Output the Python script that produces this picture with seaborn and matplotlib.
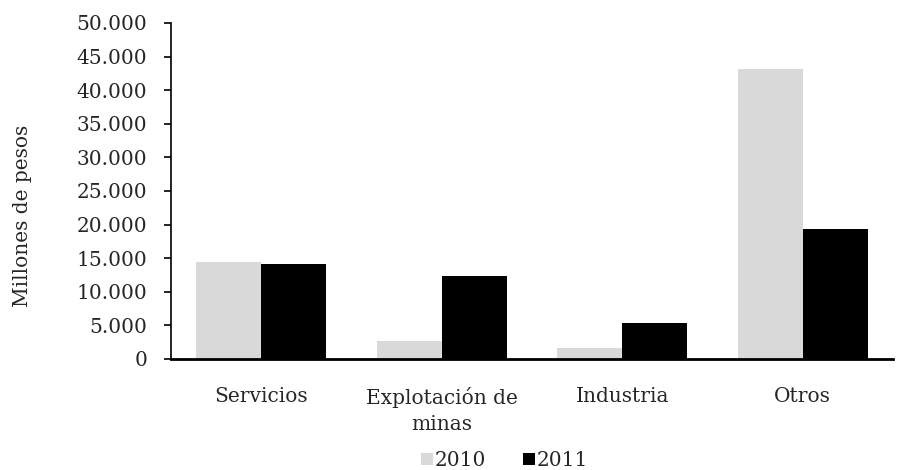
import matplotlib
matplotlib.use("Agg")
import matplotlib.pyplot as plt
import seaborn as sns
import pandas as pd
from matplotlib.ticker import FuncFormatter, MultipleLocator

categories = ["Servicios", "Explotación de\nminas", "Industria", "Otros"]
years = ["2010", "2011"]
values_2010 = [14400, 2700, 1700, 43200]
values_2011 = [14100, 12350, 5300, 19300]

df = pd.DataFrame({
    "Sector": categories * 2,
    "Año": [years[0]] * 4 + [years[1]] * 4,
    "Valor": values_2010 + values_2011,
})

sns.set_theme(style="white")
plt.rcParams["font.family"] = ["DejaVu Serif"]

FS = 14.5
fig = plt.figure(figsize=(8.98, 4.70), dpi=100)
ax = fig.add_axes([171 / 898, 1 - 359 / 470, (893 - 171) / 898, (359 - 23) / 470])

sns.barplot(data=df, x="Sector", y="Valor", hue="Año", order=categories,
            hue_order=years, palette=["#d9d9d9", "#000000"], width=0.72,
            saturation=1, ax=ax, linewidth=0)

ax.set_ylim(0, 50000)
ax.yaxis.set_major_locator(MultipleLocator(5000))
ax.yaxis.set_major_formatter(FuncFormatter(lambda v, p: f"{int(v):,}".replace(",", ".")))
ax.set_xlabel("")
ax.set_ylabel("Millones de pesos", fontsize=FS)
ax.yaxis.set_label_coords(-0.193, 0.426)
ax.tick_params(axis="y", labelsize=FS, left=True, length=5, width=1.2, color="black", pad=12)
ax.tick_params(axis="x", labelsize=FS, bottom=False, pad=14)
for lab in ax.get_xticklabels():
    lab.set_linespacing(1.45)
    lab.set_verticalalignment("top")

for s in ["top", "right"]:
    ax.spines[s].set_visible(False)
ax.spines["left"].set_color("black")
ax.spines["left"].set_linewidth(1.2)
ax.spines["bottom"].set_color("black")
ax.spines["bottom"].set_linewidth(2)

leg = ax.legend(loc="upper center", bbox_to_anchor=(0.462, -0.274), ncol=2,
                frameon=False, fontsize=FS, handlelength=0.6, handleheight=0.6,
                handletextpad=0.1, columnspacing=1.8, borderaxespad=0,
                borderpad=0)

fig.savefig("out.png", dpi=100)
